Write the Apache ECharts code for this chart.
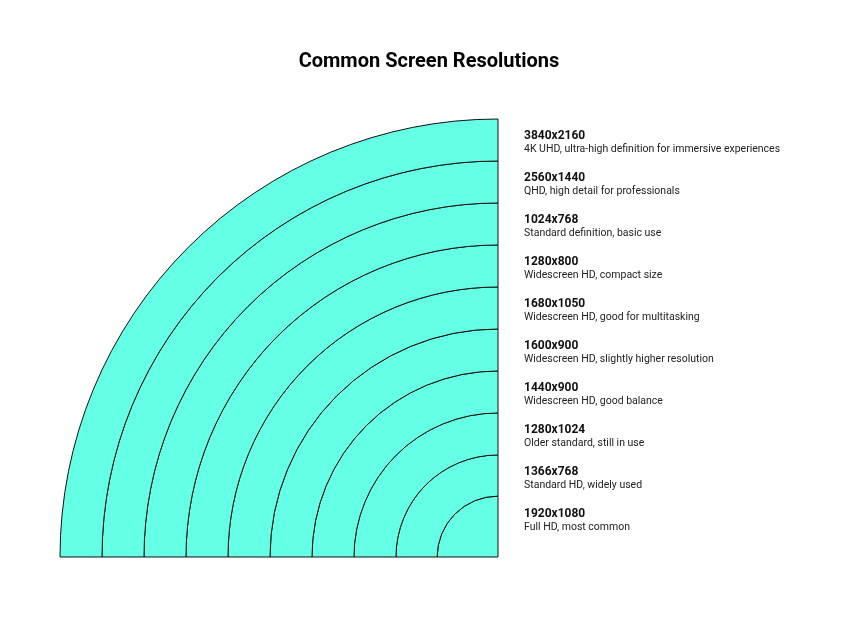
<!DOCTYPE html>
<html>
<head>
<meta charset="utf-8">
<script src="https://cdn.jsdelivr.net/npm/echarts@6/dist/echarts.min.js"></script>
<style>html,body{margin:0;padding:0;background:#fff;}#chart{width:858px;height:642px;}</style>
</head>
<body>
<div id="chart"></div>
<script>
// Rings listed from the centre outwards
const resolutions = ['1920x1080','1366x768','1280x1024','1440x900','1600x900','1680x1050','1280x800','1024x768','2560x1440','3840x2160'];
const descriptions = ['Full HD, most common','Standard HD, widely used','Older standard, still in use','Widescreen HD, good balance','Widescreen HD, slightly higher resolution','Widescreen HD, good for multitasking','Widescreen HD, compact size','Standard definition, basic use','QHD, high detail for professionals','4K UHD, ultra-high definition for immersive experiences'];
// Ring thickness (relative units)
const ringSize = [1.45, 0.98, 1, 1, 1, 1, 1, 1, 1, 1];
const angleCategories = ['q1','q2','q3','q4'];

const descMap = {};
resolutions.forEach((r, i) => { descMap[r] = descriptions[i]; });
const total = ringSize.reduce((a, b) => a + b, 0);

const chart = echarts.init(document.getElementById('chart'), null, {renderer: 'canvas'});
chart.setOption({
  animation: false,
  backgroundColor: '#ffffff',
  title: {
    text: 'Common Screen Resolutions',
    left: 'center',
    top: 47,
    textStyle: {fontFamily: 'Roboto', fontSize: 20, fontWeight: 'bold', color: '#000'}
  },
  polar: {center: [498, 557], radius: [0, 438]},
  angleAxis: {
    type: 'category', data: angleCategories, startAngle: 180, clockwise: true,
    show: false, axisLine: {show: false}, splitLine: {show: false}
  },
  radiusAxis: {type: 'value', min: 0, max: total, show: false, splitLine: {show: false}},
  legend: {
    orient: 'vertical',
    left: 513,
    top: 125,
    itemWidth: 0,
    itemHeight: 0,
    itemGap: 17.5,
    selectedMode: false,
    icon: 'rect',
    itemStyle: {opacity: 0},
    data: resolutions.slice().reverse(),
    formatter: name => '{n|' + name + '}\n{d|' + descMap[name] + '}',
    textStyle: {
      fontFamily: 'Roboto',
      rich: {
        n: {fontFamily: 'Roboto', fontSize: 12, fontWeight: 'bold', color: '#111', lineHeight: 13},
        d: {fontFamily: 'Roboto', fontSize: 10.5, color: '#222', lineHeight: 13}
      }
    }
  },
  series: resolutions.map((r, i) => ({
    type: 'bar',
    name: r,
    coordinateSystem: 'polar',
    stack: 'rings',
    barCategoryGap: '0%',
    data: [ringSize[i]],
    itemStyle: {color: '#64ffe4', borderColor: '#111', borderWidth: 1}
  }))
});
</script>
</body>
</html>
